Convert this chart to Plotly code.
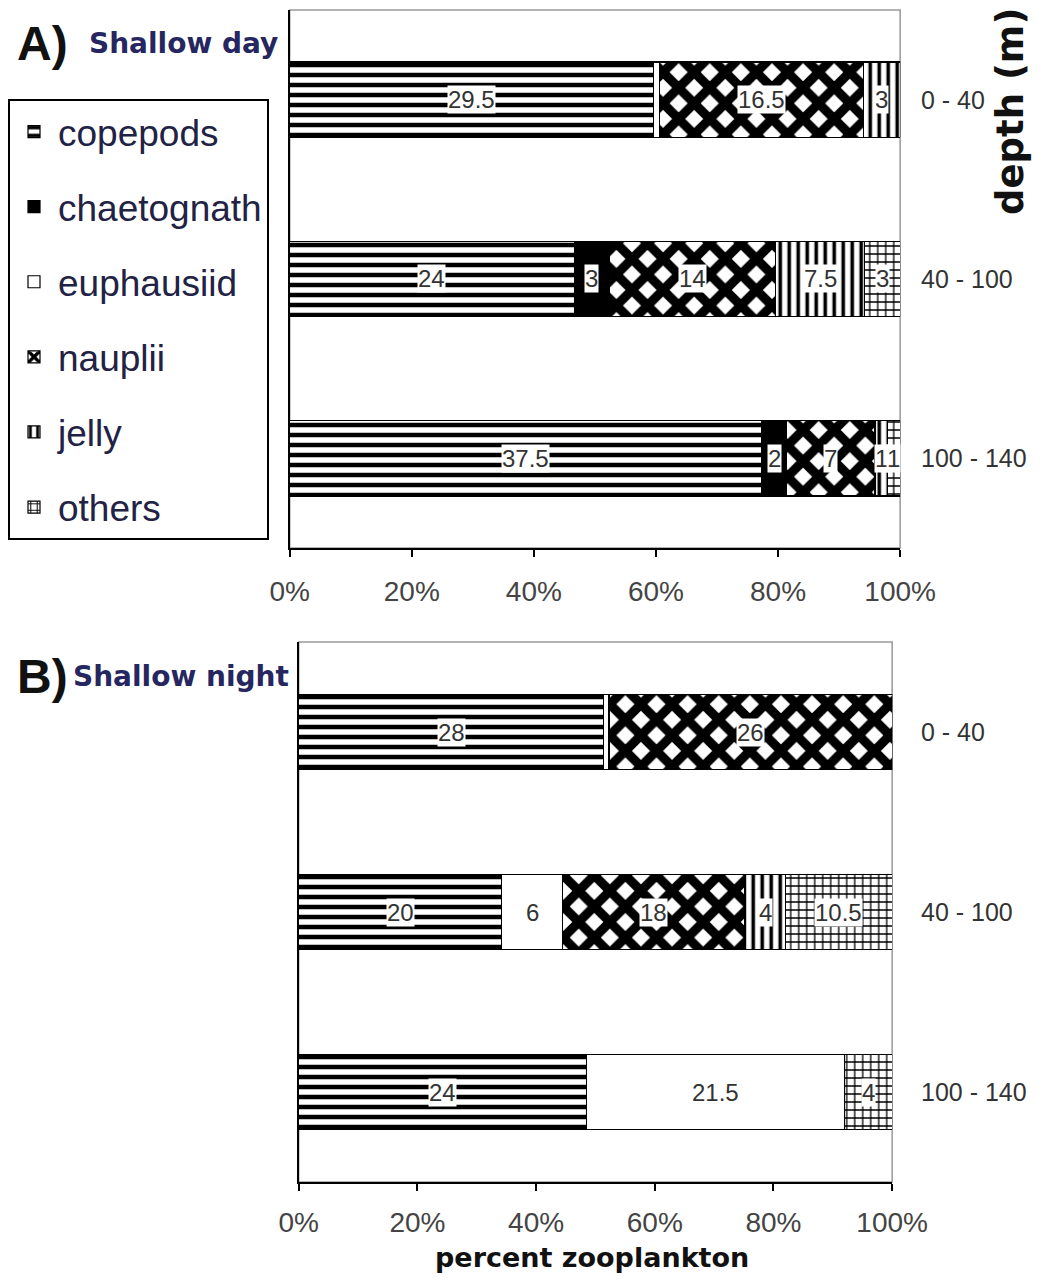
import numpy as np
import plotly.graph_objects as go

W, H = 1045, 1283
OFF = 8                      # page body margin of the browser
FW, FH = W - 2 * OFF, H - 2 * OFF

# ---------------- data ----------------
categories = ["0 - 40", "40 - 100", "100 - 140"]
species = ["copepods", "chaetognath", "euphausiid", "nauplii", "jelly", "others"]

copepods_day = [29.5, 24, 37.5]
chaetognath_day = [0, 3, 2]
euphausiid_day = [0.5, 0, 0]
nauplii_day = [16.5, 14, 7]
jelly_day = [3, 7.5, 1]
others_day = [0, 3, 1]

copepods_night = [28, 20, 24]
chaetognath_night = [0, 0, 0]
euphausiid_night = [0.5, 6, 21.5]
nauplii_night = [26, 18, 0]
jelly_night = [0, 4, 0]
others_night = [0, 10.5, 4]

x_ticks = [0, 20, 40, 60, 80, 100]
x_tick_labels = ["0%", "20%", "40%", "60%", "80%", "100%"]

day = [copepods_day, chaetognath_day, euphausiid_day, nauplii_day, jelly_day, others_day]
night = [copepods_night, chaetognath_night, euphausiid_night, nauplii_night, jelly_night, others_night]

# ---------------- styles ----------------
styles = {
    "copepods": dict(color="white", pattern=dict(shape="-", fgcolor="black", bgcolor="white", size=10, solidity=0.45)),
    "chaetognath": dict(color="black"),
    "euphausiid": dict(color="white"),
    "nauplii": dict(color="white", pattern=dict(shape="x", fgcolor="black", bgcolor="white", size=22, solidity=0.66)),
    "jelly": dict(color="white", pattern=dict(shape="|", fgcolor="black", bgcolor="white", size=9, solidity=0.4)),
    "others": dict(color="white", pattern=dict(shape="+", fgcolor="black", bgcolor="white", size=8, solidity=0.3)),
}

def px_x(p):
    return (p - OFF) / FW

def px_y(p):
    return 1 - (p - OFF) / FH

fig = go.Figure()

panels = [("x", "y", day, True), ("x2", "y2", night, False)]
annotations = []
label_font = dict(family="Liberation Sans, Arial", size=24, color="#333333")

for xa, ya, data, show in panels:
    for sp, vals in zip(species, data):
        st = styles[sp]
        marker = dict(color=st["color"], line=dict(color="black", width=1.2))
        if "pattern" in st:
            marker["pattern"] = st["pattern"]
        fig.add_trace(go.Bar(
            y=categories, x=vals, orientation="h", name=sp,
            legendgroup=sp, showlegend=show, marker=marker,
            xaxis=xa, yaxis=ya,
        ))
    arr = np.array(data, dtype=float)
    totals = arr.sum(axis=0)
    pct = arr / totals * 100
    cum = np.cumsum(pct, axis=0)
    for i in range(arr.shape[0]):
        for j, cat in enumerate(categories):
            v = arr[i, j]
            if v >= 1:
                annotations.append(dict(
                    x=cum[i, j] - pct[i, j] / 2, y=cat, xref=xa, yref=ya,
                    text="%g" % v, showarrow=False, bgcolor="white", borderpad=0,
                    font=label_font,
                ))
    for cat in categories:
        annotations.append(dict(
            x=1, y=cat, xref=xa + " domain", yref=ya, text=cat, showarrow=False,
            xanchor="left", xshift=19 if xa == "x" else 27,
            font=dict(family="Liberation Sans, Arial", size=25, color="#333333"),
        ))

title_col = "#262660"
annotations += [
    dict(x=px_x(14), y=px_y(44), xref="paper", yref="paper", text="<b>A)</b>", showarrow=False,
         xanchor="left", yanchor="middle", font=dict(family="Liberation Sans, Arial", size=48, color="#111111")),
    dict(x=px_x(86), y=px_y(44), xref="paper", yref="paper", text="<b>Shallow day</b>", showarrow=False,
         xanchor="left", yanchor="middle", font=dict(family="DejaVu Sans", size=28, color=title_col)),
    dict(x=px_x(14), y=px_y(676), xref="paper", yref="paper", text="<b>B)</b>", showarrow=False,
         xanchor="left", yanchor="middle", font=dict(family="Liberation Sans, Arial", size=48, color="#111111")),
    dict(x=px_x(70), y=px_y(676), xref="paper", yref="paper", text="<b>Shallow night</b>", showarrow=False,
         xanchor="left", yanchor="middle", font=dict(family="DejaVu Sans", size=28, color=title_col)),
    dict(x=px_x(1011), y=px_y(112), xref="paper", yref="paper", text="<b>depth (m)</b>", showarrow=False,
         textangle=-90, xanchor="center", yanchor="middle", font=dict(family="DejaVu Sans", size=37, color="#111111")),
    dict(x=px_x(592), y=px_y(1257), xref="paper", yref="paper", text="<b>percent zooplankton</b>", showarrow=False,
         xanchor="center", yanchor="middle", font=dict(family="DejaVu Sans", size=27, color="#111111")),
]

xaxis_common = dict(
    range=[0, 100], tickmode="array", tickvals=x_ticks, ticktext=x_tick_labels,
    ticks="outside", ticklen=7,
    tickcolor="black", tickwidth=1.5, showline=True, linecolor="black", linewidth=1.5,
    showgrid=False, zeroline=False, automargin=False,
    tickfont=dict(family="Liberation Sans, Arial", size=28, color="#444444"),
)
yaxis_common = dict(
    type="category", categoryorder="array", categoryarray=categories, range=[2.5, -0.5],
    showline=True, linecolor="black", linewidth=1.5, ticks="", showticklabels=False,
    showgrid=False, zeroline=False, automargin=False, fixedrange=True,
)

shapes = []
for xa, ya in [("x", "y"), ("x2", "y2")]:
    shapes.append(dict(type="rect", xref=xa + " domain", yref=ya + " domain", x0=0, x1=1, y0=0, y1=1,
                       line=dict(color="#999999", width=1.5), layer="below"))

fig.update_layout(
    width=FW, height=FH, template="none",
    paper_bgcolor="white", plot_bgcolor="white",
    margin=dict(l=0, r=0, t=0, b=0),
    barmode="stack", barnorm="percent", bargap=0.58,
    xaxis=dict(domain=[px_x(289), px_x(900)], anchor="y", ticklabelstandoff=11, **xaxis_common),
    yaxis=dict(domain=[px_y(548), px_y(10)], anchor="x", **yaxis_common),
    xaxis2=dict(domain=[px_x(298), px_x(892)], anchor="y2", ticklabelstandoff=8, **xaxis_common),
    yaxis2=dict(domain=[px_y(1182), px_y(642)], anchor="x2", **yaxis_common),
    legend=dict(
        x=px_x(7), y=px_y(99), xanchor="left", yanchor="top",
        bordercolor="black", borderwidth=2, bgcolor="white",
        font=dict(family="Liberation Sans, Arial", size=37, color="#222244"),
        tracegroupgap=24, traceorder="grouped", itemwidth=38,
    ),
    annotations=annotations, shapes=shapes,
    showlegend=True,
)

fig.write_html("out.html")
